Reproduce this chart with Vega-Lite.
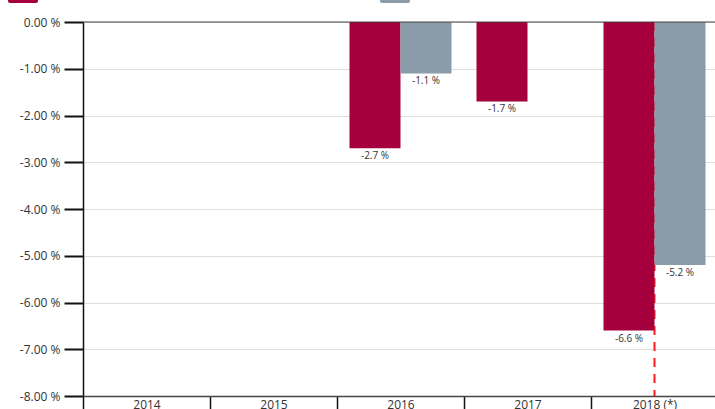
{
  "$schema": "https://vega.github.io/schema/vega-lite/v6.json",
  "width": 635,
  "height": 374,
  "autosize": {"type": "none"},
  "padding": {"left": 83, "top": 22, "right": 0, "bottom": 13},
  "config": {"view": {"stroke": null}, "font": "Open Sans"},
  "data": {
    "values": [
      {"year": "2016", "series": "Series 1", "value": -2.7},
      {"year": "2016", "series": "Series 2", "value": -1.1},
      {"year": "2017", "series": "Series 1", "value": -1.7},
      {"year": "2018 (*)", "series": "Series 1", "value": -6.6},
      {"year": "2018 (*)", "series": "Series 2", "value": -5.2}
    ]
  },
  "layer": [
    {
      "data": {"values": [{"year": "2018 (*)"}]},
      "mark": {"type": "rule", "color": "#ff1a1a", "strokeWidth": 2, "strokeDash": [9, 7]},
      "encoding": {
        "x": {"field": "year", "type": "nominal"}
      }
    },
    {
      "mark": {"type": "bar"},
      "encoding": {
        "x": {
          "field": "year",
          "type": "nominal",
          "sort": null,
          "scale": {"domain": ["2014", "2015", "2016", "2017", "2018 (*)"], "paddingInner": 0, "paddingOuter": 0},
          "axis": {
            "title": null,
            "labelAngle": 0,
            "labelAlign": "center",
            "tickBand": "extent",
            "tickSize": 16,
            "tickWidth": 1.5,
            "tickColor": "#111",
            "domainColor": "#444",
            "domainWidth": 1.5,
            "labelPadding": -8,
            "labelFontSize": 12,
            "labelColor": "#333",
            "labelFont": "Open Sans"
          }
        },
        "xOffset": {"field": "series", "type": "nominal", "scale": {"domain": ["Series 1", "Series 2"], "paddingInner": 0, "paddingOuter": 0.245}},
        "y": {
          "field": "value",
          "type": "quantitative",
          "scale": {"domain": [-8, 0], "nice": false, "zero": false},
          "axis": {
            "title": null,
            "values": [0, -1, -2, -3, -4, -5, -6, -7, -8],
            "labelExpr": "replace(format(datum.value, '.2f'), '−', '-') + ' %'",
            "tickSize": 19,
            "tickWidth": 2,
            "tickColor": "#111",
            "domainColor": "#111",
            "domainWidth": 1.5,
            "labelPadding": 4,
            "labelFontSize": 12,
            "labelColor": "#333",
            "labelFont": "Open Sans",
            "gridColor": "#dddddd",
            "gridWidth": 1
          }
        },
        "color": {
          "field": "series",
          "type": "nominal",
          "scale": {"domain": ["Series 1", "Series 2"], "range": ["#a5003d", "#8a9ca9"]},
          "legend": {
            "orient": "none",
            "legendX": -65,
            "legendY": -29,
            "direction": "horizontal",
            "title": null,
            "padding": 0,
            "symbolType": "M-3,-0.6Q-3,-1,-2.6,-1H2.6Q3,-1,3,-0.6V0.6Q3,1,2.6,1H-2.6Q-3,1,-3,0.6Z",
            "symbolSize": 100,
            "symbolStrokeWidth": 0,
            "symbolOpacity": 1,
            "labelFontSize": 10,
            "labelBaseline": "bottom",
            "labelOffset": 4,
            "columnPadding": 311
          }
        }
      }
    },
    {
      "transform": [{"calculate": "replace(format(datum.value, '.1f'), '−', '-') + ' %'", "as": "label"}],
      "mark": {"type": "text", "baseline": "top", "dy": 3, "fontSize": 10, "color": "#333", "font": "Open Sans"},
      "encoding": {
        "x": {"field": "year", "type": "nominal"},
        "xOffset": {"field": "series", "type": "nominal"},
        "y": {"field": "value", "type": "quantitative"},
        "text": {"field": "label", "type": "nominal"}
      }
    },
    {
      "data": {"values": [{"z": 0}]},
      "mark": {"type": "rule", "color": "#444", "strokeWidth": 1},
      "encoding": {"y": {"field": "z", "type": "quantitative"}}
    }
  ]
}
